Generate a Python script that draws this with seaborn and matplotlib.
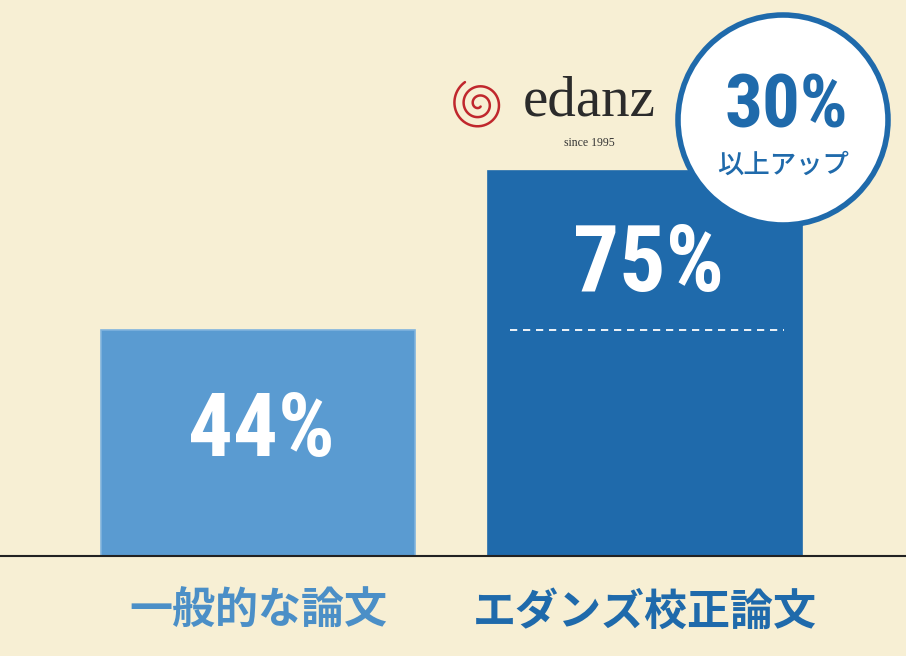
import numpy as np
import pandas as pd
import matplotlib
matplotlib.use("Agg")
import matplotlib.pyplot as plt
import seaborn as sns
from matplotlib.patches import Ellipse
from matplotlib.lines import Line2D
from matplotlib import font_manager

categories = ["一般的な論文", "エダンズ校正論文"]
values = [44, 75]
value_labels = ["44%", "75%"]
badge_value = "30%"
badge_text = "以上アップ"

BG = "#f7efd4"
C1 = "#5a9bd1"
C2 = "#1f6aab"
LBL1 = "#4b8fc7"

sns.set_theme(style="white")
plt.rcParams['font.family'] = ['Noto Sans CJK JP', 'DejaVu Sans']

names = {f.name for f in font_manager.fontManager.ttflist}
cond = [n for n in ['Roboto Condensed', 'Liberation Sans Narrow', 'DejaVu Sans'] if n in names]

fig = plt.figure(figsize=(9.06, 6.56), dpi=100, facecolor=BG)
ax = fig.add_axes([0, 1 - 556/656, 1, 556/656])
ax.set_facecolor(BG)

df = pd.DataFrame({"cat": categories, "val": values})
sns.barplot(data=df, x="cat", y="val", hue="cat", palette=[C1, C2],
            width=0.81, saturation=1, legend=False, ax=ax)
for p, ec in zip(ax.patches, ["#7fb3de", C2]):
    p.set_edgecolor(ec)
    p.set_linewidth(1.2)

k = 5.13  # px per unit
ax.set_xlim(-258/387, (906-258)/387)
ax.set_ylim(0, 556/k)
for s in ["top", "right", "left"]:
    ax.spines[s].set_visible(False)
ax.spines["bottom"].set_color("#222222")
ax.spines["bottom"].set_linewidth(1.5)
ax.set_yticks([])
ax.set_xlabel("")
ax.set_ylabel("")
ax.set_xticks(range(len(categories)))
ax.set_xticklabels(categories, fontsize=31, fontweight="bold")
ax.tick_params(axis="x", length=0, pad=24)
for t, c in zip(ax.get_xticklabels(), [LBL1, C2]):
    t.set_color(c)

ax.text(0.01, values[0]*0.55, value_labels[0], ha="center", va="center",
        color="white", fontsize=64, fontweight="bold", family=cond,
        fontstretch="condensed")
ax.text(1.01, values[1]*0.755, value_labels[1], ha="center", va="center",
        color="white", fontsize=66, fontweight="bold", family=cond,
        fontstretch="condensed")

ax.plot([1 - 0.35, 1 + 0.36], [values[0], values[0]], color="white",
        lw=1.3, ls=(0, (4, 3.2)))

def px(x, y):
    return (x/906, 1 - y/656)

circ = Ellipse(px(783, 120), 210/906, 210/656, transform=fig.transFigure,
               facecolor="white", edgecolor=C2, lw=4, zorder=5)
fig.patches.append(circ)
fig.text(*px(786, 108), badge_value, ha="center", va="center", color=C2,
         fontsize=54, fontweight="bold", family=cond, fontstretch="condensed",
         zorder=6)
fig.text(*px(783, 165), badge_text, ha="center", va="center", color=C2,
         fontsize=19, fontweight="medium", zorder=6)

th = np.linspace(0, 5.0*np.pi, 400)
r = 3 + 23 * (th / th.max())
sx = 479 + r*np.cos(th + 1.0)
sy = 104 + r*np.sin(th + 1.0)
fig.lines.append(Line2D(sx/906, 1 - sy/656, transform=fig.transFigure,
                        color="#c0272d", lw=1.8))
fig.text(*px(589, 102), "edanz", ha="center", va="center", color="#2b2b2b",
         fontsize=41, family=['Liberation Serif', 'DejaVu Serif'])
fig.text(*px(589, 143), "since 1995", ha="center", va="center",
         color="#333333", fontsize=8.5, family=['Liberation Serif', 'DejaVu Serif'])

fig.savefig("out.png", dpi=100, facecolor=BG)
